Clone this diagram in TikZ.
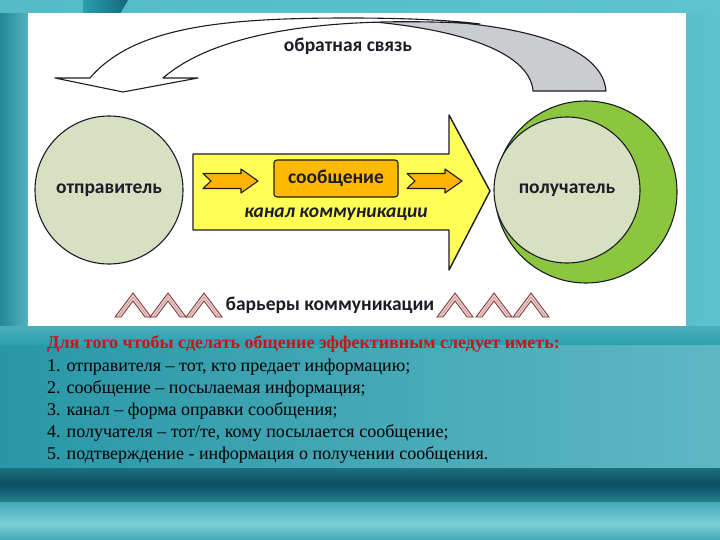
\documentclass[tikz,border=0pt]{standalone}
\usepackage{fontspec}
\setmainfont{Liberation Serif}
\newfontfamily\carl{Carlito}
\usetikzlibrary{shapes.geometric}
\definecolor{tealA}{HTML}{2A9FB0}
\definecolor{tealL}{HTML}{5EC3CD}
\definecolor{tealD}{HTML}{0C4E62}
\definecolor{ink}{HTML}{1C1C28}
\definecolor{sendfill}{HTML}{D8E0C2}
\definecolor{recvgreen}{HTML}{8CC63F}
\definecolor{chanyellow}{HTML}{FFFF55}
\definecolor{msgorange}{HTML}{FFBA00}
\definecolor{arrorange}{HTML}{FFB400}
\definecolor{chevfill}{HTML}{ECCDCB}
\definecolor{chevline}{HTML}{7A2E2E}
\definecolor{headred}{HTML}{D0101A}
\definecolor{fbgray}{HTML}{CBCCD0}
\tikzset{
  outl/.style={draw=ink, line width=1.1pt, line join=round},
  lbl/.style={font=\carl\bfseries\fontsize{19.5}{22}\selectfont, text=ink},
  bodytxt/.style={font=\rmfamily\fontsize{18}{21}\selectfont, anchor=base west, inner sep=0pt},
  smallarrow/.pic={\draw[outl, fill=arrorange] (0,-7.5) -- (38,-7.5) -- (38,-12) -- (55,0) -- (38,12) -- (38,7.5) -- (0,7.5) -- (8,0) -- cycle;},
  chev/.pic={\draw[draw=chevline, fill=chevfill, line width=0.8pt, line join=miter] (-18,12) -- (0,-12) -- (18,12) -- (12,12) -- (0,-4) -- (-12,12) -- cycle;
              \draw[draw=chevline!55, line width=0.5pt] (-15,12) -- (0,-8) -- (15,12);}
}
\begin{document}
\begin{tikzpicture}[x=1pt, y=-1pt]
\useasboundingbox (0,0) rectangle (720,540);
% ---------- background ----------
\fill[tealA] (0,0) rectangle (720,540);
\shade[left color=tealL!80!tealA, right color=tealL] (0,0) rectangle (720,14);
\shade[left color=tealA, right color=tealD!70!tealA] (83,0) -- (128,0) -- (120,14) -- (83,14) -- cycle;
\shade[left color=tealA!85!black, right color=tealA!80!white] (0,14) rectangle (28,330);
\shade[left color=tealL!90!tealA, right color=tealL] (686,14) rectangle (720,330);
\shade[top color=tealA!85!white, bottom color=tealA] (0,326) rectangle (720,345);
\shade[left color=tealA!95!black, right color=tealA!75!white] (0,345) rectangle (720,468);
\shade[top color=tealA!70!black, bottom color=tealD] (0,468) rectangle (720,484);
\shade[top color=tealD, bottom color=tealA!80!black] (0,484) rectangle (720,502);
\shade[top color=tealA!90!white, bottom color=tealL!80!white] (0,502) rectangle (720,524);
\shade[top color=tealL!80!white, bottom color=tealA!90!white] (0,524) rectangle (720,540);
% white panel
\fill[white] (28,13) rectangle (686,326);
% ---------- feedback arrow ----------
\draw[outl, fill=fbgray] (330,19) .. controls (500,15) and (602,40) .. (606,91) -- (533,91) .. controls (530,50) and (450,24) .. (330,19) -- cycle;
\draw[outl, fill=white] (90,78) .. controls (135,25) and (230,18) .. (350,18) .. controls (400,18) and (450,20) .. (480,24)
  .. controls (380,18) and (230,20) .. (163,78) -- (198,78) -- (123,92) -- (55,78) -- cycle;
\node[lbl] (fb) at (348,46) {обратная связь};
% ---------- sender ----------
\node[circle, outl, fill=sendfill, minimum size=148pt, inner sep=0pt] (sender) at (109,190) {};
\node[lbl] (sendertxt) at (sender.center) {отправитель};
% ---------- channel ----------
\draw[outl, line width=1.4pt, fill=chanyellow] (193,154) -- (449,154) -- (449,115) -- (490,191) -- (449,270) -- (449,230) -- (193,230) -- cycle;
\node[outl, fill=msgorange, rounded corners=3pt, minimum width=124pt, minimum height=37pt, inner sep=0pt] (msg) at (336,178.5) {};
\node[lbl] (msgtxt) at (msg.center) {сообщение};
\pic at (203,181) {smallarrow};
\pic at (407,181) {smallarrow};
\node[lbl, font=\carl\bfseries\itshape\fontsize{19.5}{22}\selectfont] (chan) at (336,214) {канал коммуникации};
% ---------- receiver ----------
\node[circle, outl, fill=recvgreen, minimum size=182pt, inner sep=0pt] (recvout) at (586,192) {};
\node[circle, outl, fill=sendfill, minimum size=146pt, inner sep=0pt] (receiver) at (567,190) {};
\node[lbl] (recvtxt) at (receiver.center) {получатель};
% ---------- barriers ----------
\foreach \cx in {133,168,204,455,494,531} \pic at (\cx,305) {chev};
\node[lbl] (barr) at (330,305) {барьеры коммуникации};
% ---------- text ----------
\node[bodytxt, text=headred, font=\rmfamily\bfseries\fontsize{18}{21}\selectfont] (head) at (47,348) {Для того чтобы сделать общение эффективным следует иметь:};
\node[bodytxt] (l1) at (47,371) {1. отправителя – тот, кто предает информацию;};
\node[bodytxt] (l2) at (47,393) {2. сообщение – посылаемая информация;};
\node[bodytxt] (l3) at (47,415) {3. канал – форма оправки сообщения;};
\node[bodytxt] (l4) at (47,437) {4. получателя – тот/те, кому посылается сообщение;};
\node[bodytxt] (l5) at (47,459) {5. подтверждение - информация о получении сообщения.};
\end{tikzpicture}
\end{document}
